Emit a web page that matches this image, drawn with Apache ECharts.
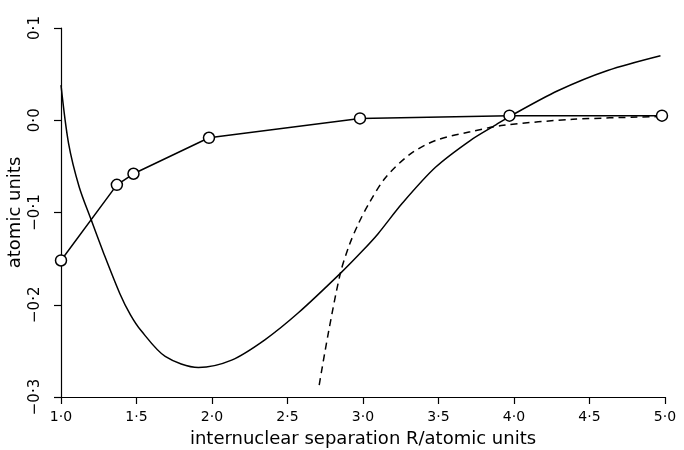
<!DOCTYPE html>
<html>
<head>
<meta charset="utf-8">
<script src="https://cdn.jsdelivr.net/npm/echarts@6/dist/echarts.min.js"></script>
<style>
  html, body { margin: 0; padding: 0; background: #fff; }
  #main { width: 684px; height: 450px; }
</style>
</head>
<body>
<div id="main"></div>
<script>
// Circles: computed points joined by straight segments
const circleX = [1.0, 1.37, 1.48, 1.98, 2.98, 3.97, 4.98];
const circleY = [-0.152, -0.070, -0.058, -0.019, 0.002, 0.005, 0.005];

// Solid potential curve
const solidX = [1.0, 1.05, 1.12, 1.2, 1.28, 1.39, 1.46, 1.53, 1.69, 1.91, 2.13, 2.35, 2.57, 2.85, 3.0, 3.1, 3.26, 3.48, 3.71, 3.88, 3.97, 4.29, 4.62, 4.97];
const solidY = [0.038, -0.025, -0.072, -0.108, -0.143, -0.188, -0.211, -0.228, -0.256, -0.268, -0.260, -0.238, -0.209, -0.166, -0.141, -0.123, -0.090, -0.051, -0.022, -0.005, 0.004, 0.032, 0.054, 0.070];

// Dashed curve
const dashX = [2.71, 2.77, 2.85, 2.91, 2.97, 3.04, 3.15, 3.31, 3.48, 3.71, 3.93, 4.39, 4.95];
const dashY = [-0.287, -0.231, -0.166, -0.135, -0.112, -0.090, -0.062, -0.037, -0.022, -0.0125, -0.0055, 0.001, 0.004];

const xTicks = [1.0, 1.5, 2.0, 2.5, 3.0, 3.5, 4.0, 4.5, 5.0];

const pair = (xs, ys) => xs.map((x, i) => [x, ys[i]]);
const fmt = (v) => (v < 0 ? "\u2212" : "") + Math.abs(v).toFixed(1).replace(".", "\u00b7");

let myChart = echarts.init(document.getElementById("main"));

const font = "DejaVu Sans";
const axisStyle = {
  axisLine: { show: true, onZero: false, lineStyle: { color: "#000", width: 1.2 } },
  axisTick: { show: true, length: 7, lineStyle: { color: "#000", width: 1.2 } },
  splitLine: { show: false },
};

let options = {
  animation: false,
  backgroundColor: "#fff",
  grid: { left: 61, right: 19, top: 28, bottom: 53, outerBoundsMode: "none" },
  xAxis: {
    type: "value",
    min: 1,
    max: 5,
    interval: 0.5,
    name: "internuclear separation R/atomic units",
    nameLocation: "middle",
    nameGap: 33,
    nameMoveOverlap: false,
    nameTextStyle: { fontFamily: font, fontSize: 18, color: "#000" },
    axisLabel: {
      margin: 13,
      fontFamily: font,
      fontSize: 14,
      color: "#000",
      formatter: (v) => (xTicks.some((t) => Math.abs(t - v) < 1e-9) ? fmt(v) : ""),
    },
    ...axisStyle,
  },
  yAxis: {
    type: "value",
    min: -0.3,
    max: 0.1,
    interval: 0.1,
    name: "atomic units",
    nameLocation: "middle",
    nameGap: 37,
    nameMoveOverlap: false,
    nameTextStyle: { fontFamily: font, fontSize: 18, color: "#000" },
    axisLabel: {
      rotate: 90,
      margin: 18,
      fontFamily: font,
      fontSize: 15,
      color: "#000",
      formatter: fmt,
    },
    ...axisStyle,
  },
  series: [
    {
      type: "line",
      data: pair(solidX, solidY),
      smooth: 0.3,
      symbol: "none",
      lineStyle: { color: "#000", width: 1.5 },
    },
    {
      type: "line",
      data: pair(dashX, dashY),
      smooth: 0.3,
      symbol: "none",
      lineStyle: { color: "#000", width: 1.5, type: [7, 5] },
    },
    {
      type: "line",
      data: pair(circleX, circleY),
      symbol: "circle",
      symbolSize: 11,
      itemStyle: { color: "#fff", borderColor: "#000", borderWidth: 1.5 },
      lineStyle: { color: "#000", width: 1.5 },
      z: 3,
    },
  ],
};
myChart.setOption(options);
</script>
</body>
</html>
